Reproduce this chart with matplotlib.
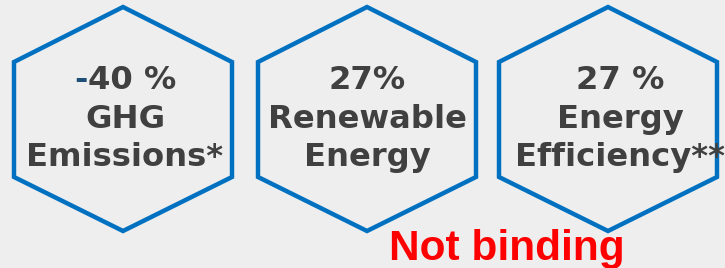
import matplotlib
matplotlib.use("Agg")
import matplotlib.pyplot as plt
from matplotlib.patches import Polygon

# targets shown in the hexagons
values = ["-40 %", "27%", "27 %"]
labels = [["GHG", "Emissions*"], ["Renewable", "Energy"], ["Energy", "Efficiency**"]]
note = "Not binding"

# layout in pixels
hex_cx = [123, 367, 608]
text_cx = [125, 367, 620]
hex_top, hex_side_top, hex_side_bot, hex_bot = 7, 62, 177, 231
hex_half_w = 109
baselines = [89, 128, 166]

bg = "#EEEEEE"
blue = "#0070C0"
grey = "#404040"
fs = 23.2

fig = plt.figure(figsize=(7.25, 2.68), dpi=100, facecolor=bg)
ax = fig.add_axes([0, 0, 1, 1])
ax.set_xlim(0, 725)
ax.set_ylim(268, 0)
ax.axis("off")
ax.set_facecolor(bg)

for cx in hex_cx:
    pts = [(cx, hex_top), (cx + hex_half_w, hex_side_top), (cx + hex_half_w, hex_side_bot),
           (cx, hex_bot), (cx - hex_half_w, hex_side_bot), (cx - hex_half_w, hex_side_top)]
    ax.add_patch(Polygon(pts, closed=True, fill=False, edgecolor=blue, linewidth=3.2,
                         joinstyle="miter"))

font = dict(family="DejaVu Sans", weight="bold", fontsize=fs)
fig.canvas.draw()
renderer = fig.canvas.get_renderer()
inv = ax.transData.inverted()


def width_of(s):
    # width of a string in data units (pixels here)
    t = ax.text(0, 0, s, **font)
    bb = t.get_window_extent(renderer=renderer)
    t.remove()
    return bb.width


for i, cx in enumerate(text_cx):
    lines = [values[i]] + labels[i]
    for j, line in enumerate(lines):
        if line.startswith("-"):
            # the minus sign is drawn in dark blue, the rest in grey
            x0 = cx - width_of(line) / 2
            ax.text(x0, baselines[j], "-", ha="left", va="baseline", color="#1F4E79", **font)
            ax.text(x0 + width_of("-"), baselines[j], line[1:], ha="left", va="baseline",
                    color=grey, **font)
        else:
            ax.text(cx, baselines[j], line, ha="center", va="baseline", color=grey, **font)

ax.text(507, 260, note, ha="center", va="baseline", family="Liberation Sans",
        weight="bold", fontsize=30.5, color="#FF0000")

fig.savefig("out.png", dpi=100, facecolor=bg)
